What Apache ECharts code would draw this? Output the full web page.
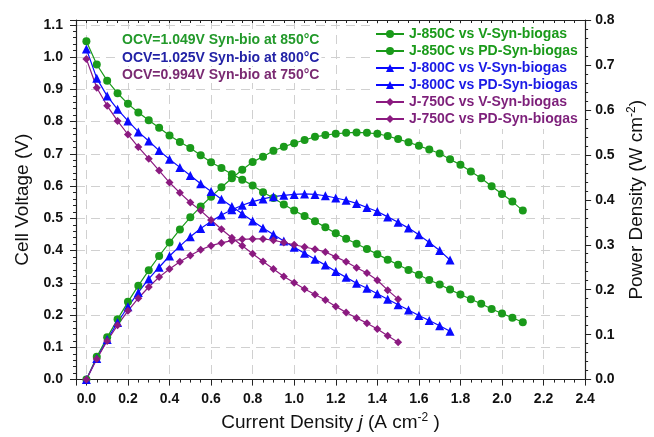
<!DOCTYPE html>
<html>
<head>
<meta charset="utf-8">
<script src="https://cdn.jsdelivr.net/npm/echarts@6/dist/echarts.min.js"></script>
<style>html,body{margin:0;padding:0;background:#fff;}#c{width:654px;height:437px;}</style>
</head>
<body>
<div id="c"></div>
<script>
// Current density (A cm^-2)
var j850 = [0,0.05,0.1,0.15,0.2,0.25,0.3,0.35,0.4,0.45,0.5,0.55,0.6,0.65,0.7,0.75,0.8,0.85,0.9,0.95,1.0,1.05,1.1,1.15,1.2,1.25,1.3,1.35,1.4,1.45,1.5,1.55,1.6,1.65,1.7,1.75,1.8,1.85,1.9,1.95,2.0,2.05,2.1];
var j800 = [0,0.05,0.1,0.15,0.2,0.25,0.3,0.35,0.4,0.45,0.5,0.55,0.6,0.65,0.7,0.75,0.8,0.85,0.9,0.95,1.0,1.05,1.1,1.15,1.2,1.25,1.3,1.35,1.4,1.45,1.5,1.55,1.6,1.65,1.7,1.75];
var j750 = [0,0.05,0.1,0.15,0.2,0.25,0.3,0.35,0.4,0.45,0.5,0.55,0.6,0.65,0.7,0.75,0.8,0.85,0.9,0.95,1.0,1.05,1.1,1.15,1.2,1.25,1.3,1.35,1.4,1.45,1.5];
// Cell voltage (V)
var v850 = [1.049,0.977,0.927,0.888,0.855,0.828,0.804,0.781,0.757,0.737,0.718,0.696,0.674,0.656,0.637,0.620,0.602,0.581,0.563,0.543,0.524,0.507,0.491,0.472,0.454,0.437,0.421,0.405,0.389,0.372,0.356,0.340,0.325,0.309,0.295,0.279,0.264,0.249,0.235,0.219,0.205,0.192,0.178];
var v800 = [1.025,0.934,0.879,0.838,0.802,0.768,0.740,0.710,0.683,0.658,0.633,0.607,0.583,0.559,0.537,0.514,0.492,0.470,0.450,0.430,0.410,0.392,0.373,0.355,0.335,0.317,0.299,0.283,0.266,0.249,0.232,0.216,0.199,0.183,0.167,0.150];
var v750 = [0.994,0.905,0.849,0.802,0.760,0.721,0.685,0.648,0.611,0.579,0.549,0.524,0.495,0.466,0.440,0.415,0.390,0.366,0.343,0.320,0.300,0.281,0.264,0.247,0.227,0.208,0.191,0.175,0.157,0.136,0.116];
// Power density (W cm^-2)
var p850 = [0,0.051,0.094,0.134,0.173,0.209,0.243,0.275,0.305,0.334,0.361,0.385,0.407,0.428,0.448,0.467,0.484,0.496,0.509,0.518,0.526,0.533,0.540,0.544,0.547,0.549,0.550,0.549,0.547,0.542,0.535,0.528,0.520,0.512,0.503,0.490,0.478,0.463,0.448,0.430,0.413,0.396,0.376];
var p800 = [0,0.047,0.089,0.127,0.162,0.194,0.224,0.250,0.275,0.297,0.318,0.336,0.352,0.366,0.378,0.388,0.396,0.402,0.407,0.410,0.412,0.413,0.412,0.409,0.404,0.399,0.392,0.383,0.374,0.362,0.350,0.337,0.322,0.305,0.287,0.266];
var p750 = [0,0.046,0.086,0.121,0.153,0.181,0.206,0.228,0.246,0.262,0.276,0.289,0.298,0.304,0.309,0.312,0.313,0.313,0.310,0.305,0.300,0.295,0.290,0.284,0.273,0.262,0.249,0.237,0.221,0.199,0.179];

var seriesNames = ['J-850C vs V-Syn-biogas','J-850C vs PD-Syn-biogas','J-800C vs V-Syn-biogas','J-800C vs PD-Syn-biogas','J-750C vs V-Syn-biogas','J-750C vs PD-Syn-biogas'];
var ocvLabels = ['OCV=1.049V Syn-bio at 850\u00B0C','OCV=1.025V Syn-bio at 800\u00B0C','OCV=0.994V Syn-bio at 750\u00B0C'];

var GREEN = '#1a9a1a', BLUE = '#0a0aff', PURPLE = '#8b1a80';
var FONT = '"Liberation Sans", Arial, sans-serif';

function pairs(xs, ys){ return xs.map(function(x,i){ return [x, ys[i]]; }); }
function mk(name, xs, ys, yIdx, color, symbol, size){
  return {name:name, type:'line', xAxisIndex:0, yAxisIndex:yIdx, data:pairs(xs,ys),
    symbol:symbol, symbolSize:size, showSymbol:true,
    lineStyle:{color:color, width:1.2}, itemStyle:{color:color}, animation:false};
}
function fmt1(v){ var r = Math.round(v*10)/10; if (Math.abs(v - r) > 1e-6 || v < -1e-9) return ''; return r.toFixed(1); }
function fmt02(v){ var r = Math.round(v*5)/5; if (Math.abs(v - r) > 1e-6 || v < -1e-9) return ''; return r.toFixed(1); }

var chart = echarts.init(document.getElementById('c'), null, {renderer:'canvas'});
var axisCol = '#222';
var labelStyle = {color:'#111', fontSize:14, fontWeight:'bold', fontFamily:FONT};
var nameRich = {it:{fontStyle:'italic', fontSize:19, fontFamily:FONT, color:'#111'}, sup:{fontSize:12, fontFamily:FONT, color:'#111', padding:[0,0,10,0]}};
chart.setOption({
  backgroundColor:'#fff',
  animation:false,
  grid:{left:76, right:61, top:20, bottom:57, containLabel:false},
  legend:{
    orient:'vertical', left:373, top:24, itemWidth:28, itemHeight:10, itemGap:3,
    backgroundColor:'#fff', padding:[3,4,3,2],
    textStyle:{fontSize:14, fontWeight:'bold', fontFamily:FONT, lineHeight:14},
    data:[
      {name:seriesNames[0], textStyle:{color:GREEN}},
      {name:seriesNames[1], textStyle:{color:GREEN}},
      {name:seriesNames[2], textStyle:{color:'#1a1ae6'}},
      {name:seriesNames[3], textStyle:{color:'#1a1ae6'}},
      {name:seriesNames[4], textStyle:{color:'#7d1f7a'}},
      {name:seriesNames[5], textStyle:{color:'#7d1f7a'}}
    ]
  },
  graphic:[
    {type:'text', left:120, top:32, z:50, style:{text:ocvLabels[0], fill:'#22992a', font:'bold 14px ' + FONT, backgroundColor:'#fff', padding:[1,2,1,2]}},
    {type:'text', left:120, top:50, z:50, style:{text:ocvLabels[1], fill:'#2222a6', font:'bold 14px ' + FONT, backgroundColor:'#fff', padding:[1,2,1,2]}},
    {type:'text', left:120, top:67, z:50, style:{text:ocvLabels[2], fill:'#7a2a72', font:'bold 14px ' + FONT, backgroundColor:'#fff', padding:[1,2,1,2]}}
  ],
  xAxis:[
    {type:'value', position:'bottom', min:-0.05, max:2.4, splitNumber:12,
     axisLine:{onZero:false, lineStyle:{color:axisCol, width:1.2}},
     axisTick:{show:true, length:6, lineStyle:{color:axisCol}},
     axisLabel:{formatter:fmt02, margin:13, ...labelStyle},
     splitLine:{show:true, lineStyle:{color:'#d0d0d0', type:[9,6], width:1}},
     name:'Current Density {it|j} (A cm{sup|-2} )', nameLocation:'middle', nameGap:30,
     nameTextStyle:{fontSize:19, fontFamily:FONT, color:'#111', rich:nameRich}},
    {type:'value', position:'bottom', min:-0.05, max:2.4, interval:0.05,
     axisLine:{show:false, onZero:false}, axisTick:{show:true, length:3, lineStyle:{color:axisCol}},
     axisLabel:{show:false}, splitLine:{show:false}},
    {type:'value', position:'top', min:-0.05, max:2.4, interval:0.05,
     axisLine:{show:true, onZero:false, lineStyle:{color:axisCol, width:1.2}},
     axisTick:{show:true, inside:true, length:3, lineStyle:{color:axisCol}},
     axisLabel:{show:false}, splitLine:{show:false}}
  ],
  yAxis:[
    {type:'value', position:'left', min:0, max:1.115, interval:0.1,
     axisLine:{show:true, onZero:false, lineStyle:{color:axisCol, width:1.2}},
     axisTick:{show:true, length:6, lineStyle:{color:axisCol}},
     axisLabel:{formatter:fmt1, margin:13, ...labelStyle},
     splitLine:{show:true, lineStyle:{color:'#d0d0d0', type:[9,6], width:1}},
     name:'Cell Voltage (V)', nameLocation:'middle', nameGap:44, nameRotate:90,
     nameTextStyle:{fontSize:19, fontFamily:FONT, color:'#111'}},
    {type:'value', position:'right', min:0, max:0.8, interval:0.1,
     axisLine:{show:true, onZero:false, lineStyle:{color:axisCol, width:1.2}},
     axisTick:{show:true, length:6, lineStyle:{color:axisCol}},
     minorTick:{show:true, splitNumber:5, length:3, lineStyle:{color:axisCol}},
     axisLabel:{formatter:fmt1, margin:10, ...labelStyle},
     splitLine:{show:false},
     name:'Power Density (W cm{sup|-2})', nameLocation:'middle', nameGap:40, nameRotate:90,
     nameTextStyle:{fontSize:19, fontFamily:FONT, color:'#111', rich:nameRich}},
    {type:'value', position:'left', min:0, max:1.115, interval:0.02,
     axisLine:{show:false, onZero:false}, axisTick:{show:true, length:3, lineStyle:{color:axisCol}},
     axisLabel:{show:false}, splitLine:{show:false}}
  ],
  series:[
    mk(seriesNames[0], j850, v850, 0, GREEN, 'circle', 8),
    mk(seriesNames[1], j850, p850, 1, GREEN, 'circle', 8),
    mk(seriesNames[2], j800, v800, 0, BLUE, 'triangle', 9),
    mk(seriesNames[3], j800, p800, 1, BLUE, 'triangle', 9),
    mk(seriesNames[4], j750, v750, 0, PURPLE, 'diamond', 8),
    mk(seriesNames[5], j750, p750, 1, PURPLE, 'diamond', 8)
  ]
});
</script>
</body>
</html>
